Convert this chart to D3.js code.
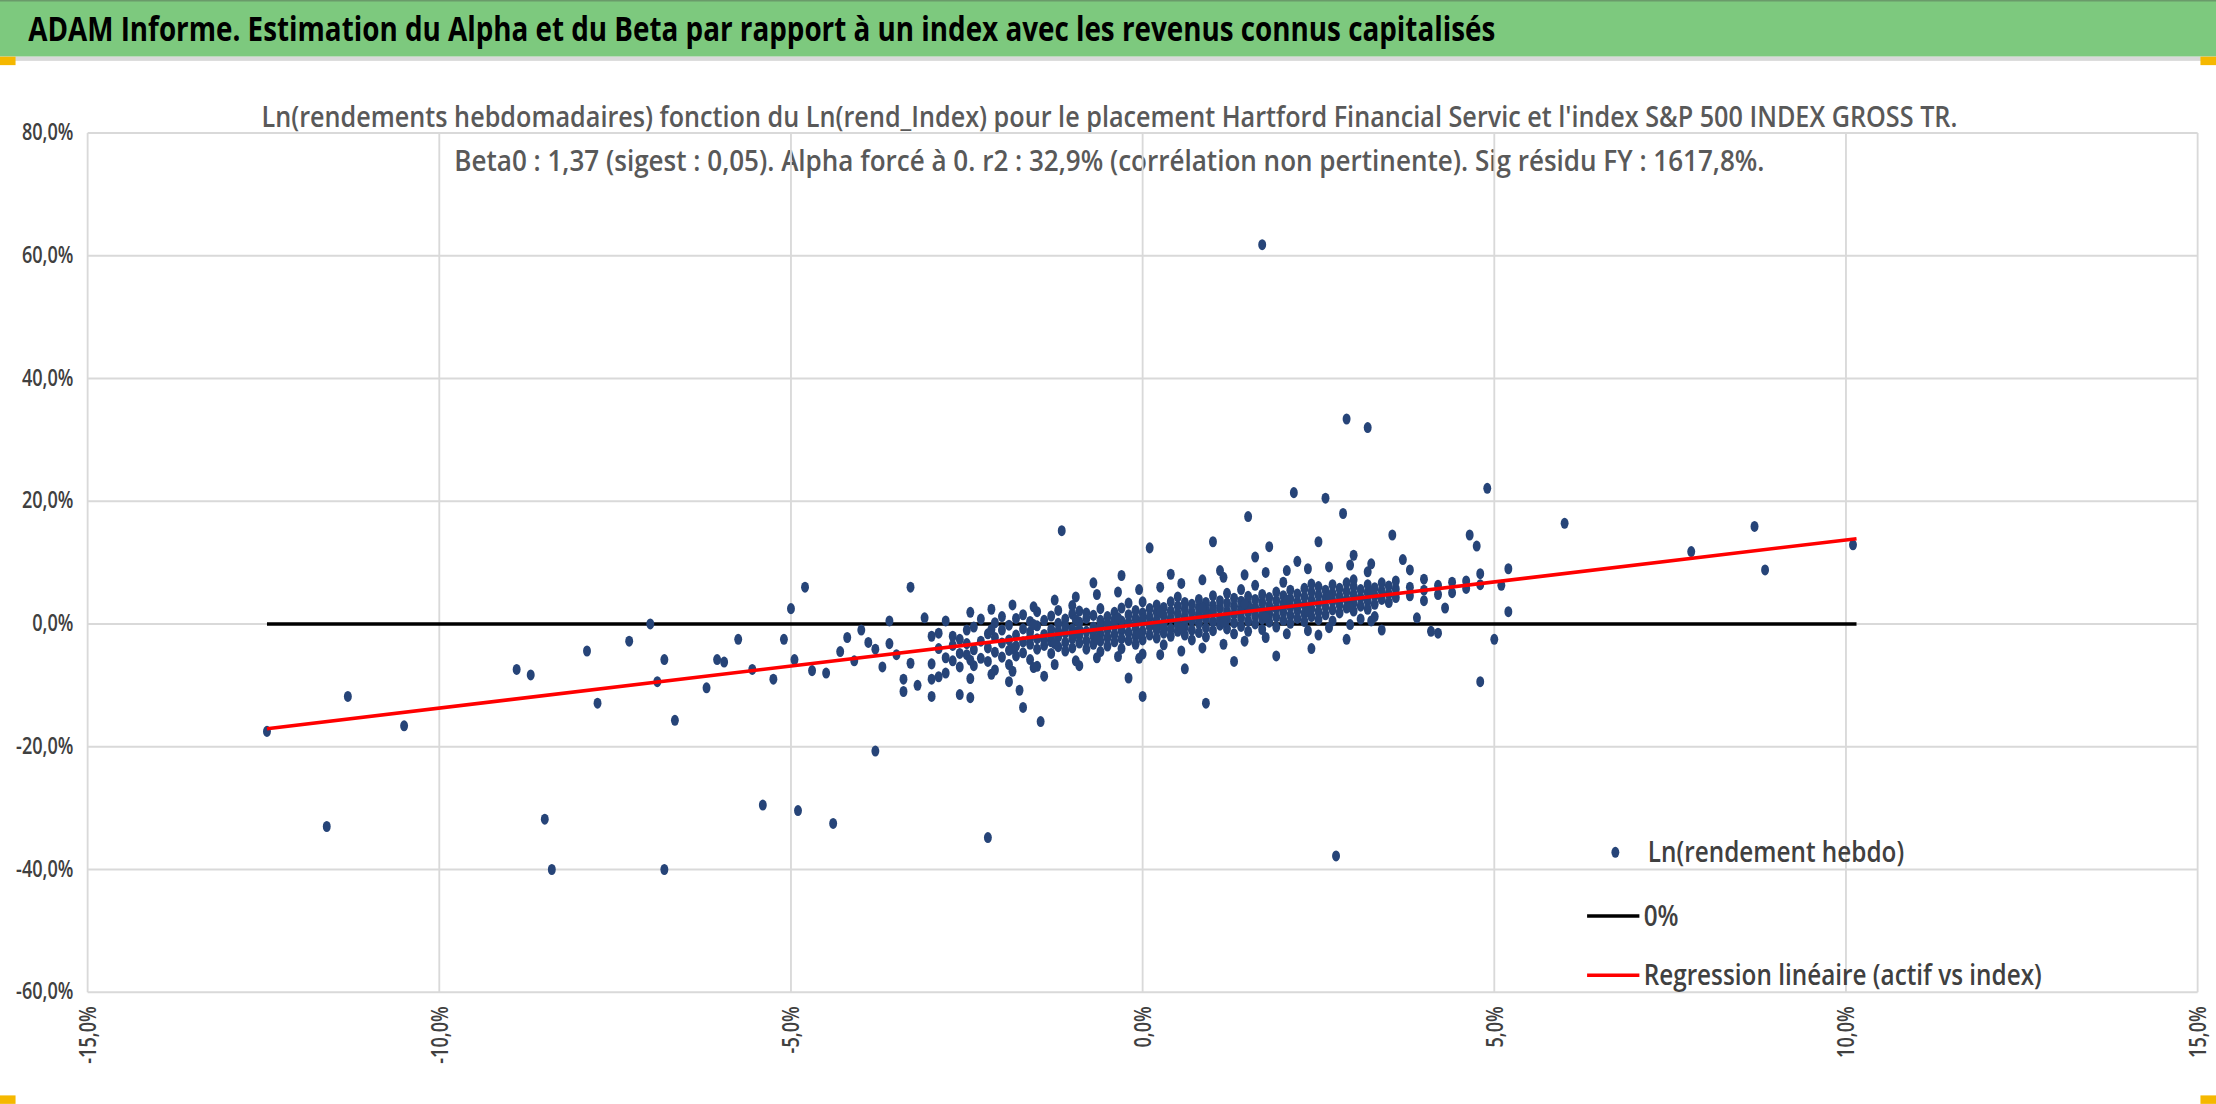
<!DOCTYPE html>
<html><head><meta charset="utf-8">
<script src="https://cdn.jsdelivr.net/npm/d3@7"></script>
<style>body{margin:0;background:#fff}svg{display:block}</style>
</head><body>
<script>
const title = "ADAM Informe. Estimation du Alpha et du Beta par rapport à un index avec les revenus connus capitalisés";
const subtitle1 = "Ln(rendements hebdomadaires) fonction du Ln(rend_Index) pour le placement Hartford Financial Servic et l'index S&P 500 INDEX GROSS TR.";
const subtitle2 = "Beta0 : 1,37 (sigest : 0,05). Alpha forcé à 0. r2 : 32,9% (corrélation non pertinente). Sig résidu FY : 1617,8%.";
const xTicks = [-15,-10,-5,0,5,10,15];
const yTicks = [80,60,40,20,0,-20,-40,-60];
const beta = 1.37;
const lineRange = [-12.45, 10.15];
const legendLabels = ["Ln(rendement hebdo)","0%","Regression linéaire (actif vs index)"];
const outliers = [[-12.45,-17.5],[-11.3,-11.8],[-11.6,-33],[-10.5,-16.6],[-8.9,-7.4],[-8.7,-8.3],[-8.5,-31.8],[-8.4,-40],[-7.9,-4.4],[-7.75,-12.9],[-7.3,-2.8],[-7.0,0],[-6.9,-9.4],[-6.8,-5.8],[-6.8,-40],[-6.65,-15.7],[-6.2,-10.4],[-6.05,-5.8],[-5.95,-6.2],[-5.75,-2.5],[-5.55,-7.4],[-5.4,-29.5],[-5.25,-9],[-5.1,-2.5],[-5.0,2.5],[-4.95,-5.8],[-4.9,-30.4],[-4.8,6],[-4.7,-7.6],[-4.4,-32.5],[-3.8,-20.7],[-3.3,6],[-2.2,-34.8],[-1.15,15.2],[0,-11.8],[0.9,-12.9],[1.5,17.5],[1.7,61.8],[2.15,21.4],[2.6,20.5],[2.9,33.4],[3.2,32],[2.75,-37.8],[4.9,22.1],[6.0,16.4],[7.8,11.8],[8.7,15.9],[8.85,8.8],[10.1,12.9],[4.8,-9.4],[5.0,-2.5],[5.2,9],[5.2,2],[4.65,14.5],[4.75,12.7],[3.55,14.5],[2.5,13.4],[2.85,18],[1.0,13.4],[0.1,12.4],[-0.7,6.7],[-1.75,-10.8],[-1.45,-15.9],[-1.7,-13.6],[-2.45,-12],[-3.0,-11.8],[-3.4,-9],[-3.6,-3.2],[-3.5,-5],[-3.7,-7],[-3.9,-3],[-4.1,-6],[-4.3,-4.5],[-3.2,-10],[-3.4,-11],[-2.6,-11.5],[-4.5,-8],[-4.0,-1],[-3.6,0.5],[-3.1,1.0],[-2.7,-2],[-4.2,-2.2],[-3.8,-4.1],[-3.3,-6.4],[-2.9,-8.6],[4.1,-1.2],[4.3,2.6],[3.9,1.0],[5.1,6.3],[-1.4,-8.5],[-0.2,-8.8],[0.6,-7.3],[1.3,-6.1],[1.9,-5.2],[2.4,-4.0],[1.1,8.7],[1.6,10.9],[1.8,12.6],[0.4,8.1],[-0.3,7.9],[2.2,10.2],[3.0,11.2],[3.7,10.5],[-0.9,-6.8],[-1.9,-9.4]];
const clusterX = [-3.0,-2.9,-2.8,-2.7,-2.6,-2.5,-2.4,-2.3,-2.2,-2.1,-2.0,-1.9,-1.8,-1.7,-1.6,-1.5,-1.4,-1.3,-1.2,-1.1,-1.0,-0.9,-0.8,-0.7,-0.6,-0.5,-0.4,-0.3,-0.2,-0.1,0.0,0.1,0.2,0.3,0.4,0.5,0.6,0.7,0.8,0.9,1.0,1.1,1.2,1.3,1.4,1.5,1.6,1.7,1.8,1.9,2.0,2.1,2.2,2.3,2.4,2.5,2.6,2.7,2.8,2.9,3.0,3.1,3.2,3.3,3.4,3.5,3.6,3.8,4.0,4.2,4.4,4.6,4.8];
const clusterY = [[-6.5,-2,-9],[-4,-1.5],[-5.5,-8,0.5],[-3.5,-6],[-2.5,-7,-4.8],[-1,-5,-3.2],[-4.2,-0.5,-6.8],[-2.8,-5.6,0.8],[-3.9,-1.6,-6.1],[-2.2,-4.6,0.2,-7.5],[-3.1,-1.0,-5.4,1.2],[-2.6,-4.3,-0.2,-6.6],[-1.8,-3.6,0.9,-5.2],[-2.9,-0.8,-4.7,1.5],[-1.3,-3.3,-5.8,0.4,-2.2],[-2.4,-0.3,-4.1,2.0,-6.9],[-1.7,-3.5,0.6,-2.6],[-0.9,-2.9,-4.8,1.3,-1.9],[-2.1,0.1,-3.7,2.2,-1.2],[-1.5,-3.0,0.8,-4.4,-0.4],[-0.8,-2.4,1.6,-3.9,-1.6,3.0],[-1.9,0.3,-3.1,2.1,-0.9],[-1.2,-2.7,0.9,-4.1,1.8],[-0.5,-2.0,1.4,-3.3,-1.1],[-1.6,0.6,-2.8,2.5,-0.2,-4.5],[-0.9,1.2,-2.2,0.1,-3.6],[-0.3,-1.7,1.9,-2.9,0.7],[-1.1,0.5,-2.4,2.6,-0.6,-4.0],[0.2,-1.4,1.5,-2.7,3.4],[-0.7,0.9,-2.0,2.2,-0.1,-3.3],[0.3,-1.2,1.8,-2.6,0.8,3.6,-4.9],[-0.4,1.1,-1.8,2.5,0.0],[0.6,-1.0,1.9,-2.3,3.1,-0.3],[0.1,1.4,-1.5,2.7,-0.6,-3.4],[0.9,-0.8,2.1,-2.0,3.6],[0.4,1.7,-1.2,2.9,-0.2,4.4],[1.2,-0.5,2.4,-1.8,0.7,3.5],[0.6,1.9,-1.0,3.2,-2.6],[1.5,0.1,2.7,-1.4,4.0,0.9],[0.9,2.3,-0.6,3.5,-2.1,1.4],[1.8,0.4,3.0,-1.1,2.2,4.6],[1.2,2.6,-0.2,3.8,0.6],[2.1,0.8,3.4,-0.8,1.5,5.0],[1.6,2.9,0.2,4.2,-1.6],[2.4,1.0,3.7,-0.4,2.0,5.6],[1.9,3.2,0.5,4.5,-1.2,2.6],[2.7,1.3,4.0,0.0,6.3],[2.2,3.5,0.8,4.8,-0.9,1.6],[3.0,1.6,4.3,0.3,2.4],[2.5,3.8,1.1,5.2,-0.5],[3.3,1.9,4.6,0.6,2.8,6.8],[2.8,4.1,1.4,5.5,0.1],[3.6,2.2,4.9,0.9,3.1],[3.1,4.4,1.7,5.8,0.4],[3.9,2.5,5.2,1.2,6.5],[3.4,4.7,2.0,6.1,0.7,-1.8],[4.2,2.8,5.5,1.5],[3.7,5.0,2.3,6.4,0.5],[4.5,3.1,5.8,1.8],[4.0,5.3,2.6,6.7,-2.5],[4.8,3.4,6.1,2.1,7.2],[4.3,5.6,2.9,0.8],[5.1,3.7,6.4,2.4,8.5],[4.6,5.9,3.2,1.2],[5.4,4.0,6.7,-1.0],[4.9,6.2,3.5],[5.7,4.3,7.0],[6.0,4.6,8.8],[5.5,7.3,3.8],[6.3,4.8,-1.5],[6.8,5.1],[7.0,5.8],[6.4,8.2]];
const clusterX2 = [-2.45,-2.15,-1.85,-1.55,-1.25,-0.95,-0.65,-0.35,-0.05,0.25,0.55,0.85,1.15,1.45,1.75,2.05,2.35,2.65,2.95,3.25];
const clusterY2 = [[-8.9,1.9,-5.9],[-8.2,2.4,-0.9],[-7.7,3.1,-4.0],[-7.1,2.8,-0.1],[-6.6,3.9,-3.2],[-6.0,4.4,0.7],[-5.5,4.8,-2.5],[-5.3,5.2,1.0],[-5.6,5.6,-1.6],[-5.0,6.0,1.9],[-4.4,6.6,-0.7],[-3.9,7.2,2.6],[-3.3,7.6,0.3],[-2.8,8.0,3.3],[-2.2,8.4,1.1],[-1.6,8.7,3.9],[-1.1,9.0,2.0],[-0.6,9.3,4.6],[-0.1,9.6,2.8],[0.5,9.8,5.2]];

const points = outliers
  .concat(clusterX.flatMap((x,i)=>clusterY[i].map(y=>[x,y])))
  .concat(clusterX2.flatMap((x,i)=>clusterY2[i].map(y=>[x,y])));

const W=1568,H=781;
const svg=d3.select("body").append("svg").attr("width",2216).attr("height",1104).attr("viewBox",`0 0 ${W} ${H}`);
const F="'Open Sans',sans-serif";
svg.append("rect").attr("width",W).attr("height",H).attr("fill","#fff");
svg.append("rect").attr("x",0).attr("y",0).attr("width",W).attr("height",40).attr("fill","#7dc97e");
svg.append("line").attr("x1",0).attr("x2",W).attr("y1",0.5).attr("y2",0.5).attr("stroke","#6a9a6a");
svg.append("rect").attr("x",0).attr("y",40).attr("width",W).attr("height",3).attr("fill","#d9d9d9");
[[0,40],[W-11,40],[0,H-6],[W-11,H-6]].forEach(p=>svg.append("rect").attr("x",p[0]).attr("y",p[1]).attr("width",11).attr("height",6).attr("fill","#f5b800"));
svg.append("text").attr("x",20).attr("y",29).attr("font-family",F).attr("font-weight","700").attr("font-size",24).attr("fill","#000")
  .attr("textLength",1038).attr("lengthAdjust","spacingAndGlyphs").text(title);
[[subtitle1,90,1200],[subtitle2,121,927]].forEach(s=>svg.append("text").attr("x",785).attr("y",s[1]).attr("text-anchor","middle").attr("font-family",F).attr("font-weight","600").attr("font-size",20).attr("fill","#595959")
  .attr("textLength",s[2]).attr("lengthAdjust","spacingAndGlyphs").text(s[0]));

const x=d3.scaleLinear().domain([-15,15]).range([62,1555]);
const y=d3.scaleLinear().domain([-60,80]).range([702,94]);
const g=svg.append("g");
g.selectAll(".vg").data(xTicks).join("line").attr("x1",d=>x(d)).attr("x2",d=>x(d)).attr("y1",y(80)).attr("y2",y(-60)).attr("stroke","#d9d9d9").attr("stroke-width",1.3);
g.selectAll(".hg").data(yTicks).join("line").attr("x1",x(-15)).attr("x2",x(15)).attr("y1",d=>y(d)).attr("y2",d=>y(d)).attr("stroke","#d9d9d9").attr("stroke-width",1.3);
const fmt=d=>d3.format(".1f")(d).replace(".",",").replace("−","-")+"%";
g.selectAll(".yl").data(yTicks).join("text").attr("transform",d=>`translate(52,${y(d)+5}) scale(0.8,1)`).attr("text-anchor","end").attr("font-family",F).attr("font-weight","600").attr("font-size",16).attr("fill","#404040").text(fmt);
g.selectAll(".xl").data(xTicks).join("text").attr("transform",d=>`translate(${x(d)+6},${y(-60)+10}) rotate(-90) scale(0.8,1)`).attr("text-anchor","end").attr("font-family",F).attr("font-weight","600").attr("font-size",16).attr("fill","#404040").text(fmt);

g.append("line").attr("x1",x(lineRange[0])).attr("x2",x(lineRange[1])).attr("y1",y(0)).attr("y2",y(0)).attr("stroke","#000").attr("stroke-width",2.5);
g.selectAll(".pt").data(points).join("ellipse").attr("cx",d=>x(d[0])).attr("cy",d=>y(d[1])).attr("rx",2.8).attr("ry",3.9).attr("fill","#264478");
g.append("line").attr("x1",x(lineRange[0])).attr("x2",x(lineRange[1])).attr("y1",y(beta*lineRange[0])).attr("y2",y(beta*lineRange[1])).attr("stroke","#ff0000").attr("stroke-width",2.5);

const L=svg.append("g").attr("font-family",F).attr("font-weight","600").attr("font-size",20).attr("fill","#404040");
L.append("ellipse").attr("cx",1143).attr("cy",603).attr("rx",2.8).attr("ry",3.9).attr("fill","#264478");
L.append("line").attr("x1",1123).attr("x2",1160).attr("y1",648).attr("y2",648).attr("stroke","#000").attr("stroke-width",2.5);
L.append("line").attr("x1",1123).attr("x2",1160).attr("y1",690).attr("y2",690).attr("stroke","#ff0000").attr("stroke-width",2.5);
[603,648,690].forEach((yy,i)=>L.append("text").attr("transform",`translate(${i==0?1166:1163},${yy+7}) scale(0.86,1)`).text(legendLabels[i]));
</script>
</body></html>
